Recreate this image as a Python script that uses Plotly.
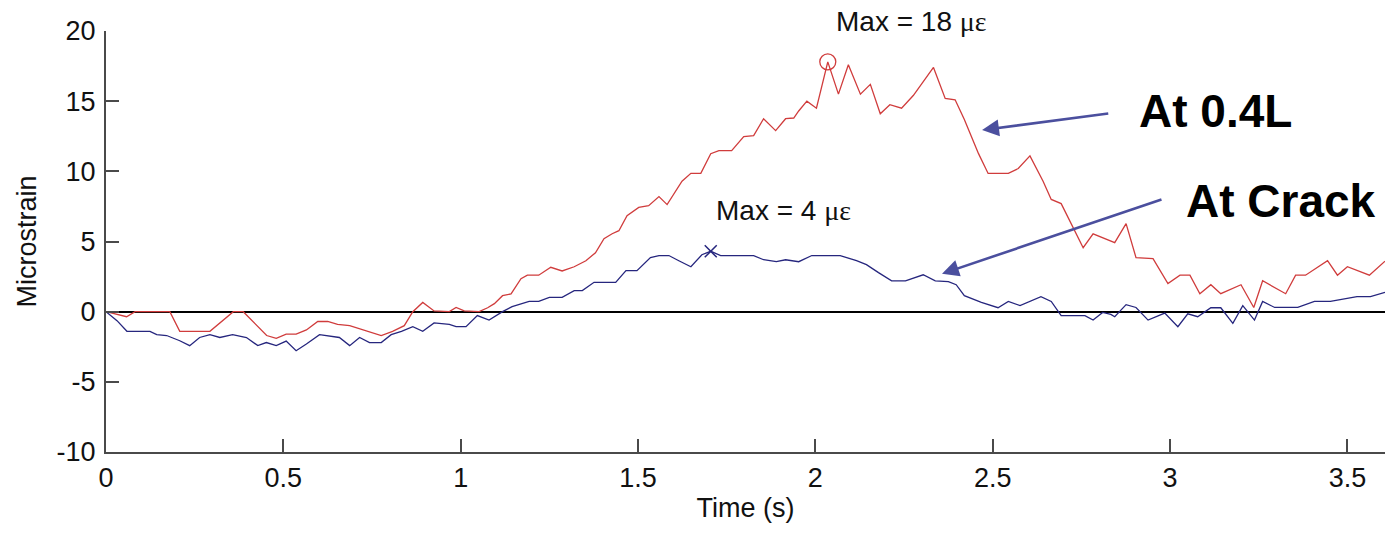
import plotly.graph_objects as go

# ---- data ----
red_t = [0.000, 0.058, 0.082, 0.180, 0.208, 0.293, 0.359, 0.387, 0.453, 0.480,
         0.508, 0.536, 0.565, 0.597, 0.625, 0.653, 0.687, 0.724, 0.743, 0.776,
         0.808, 0.841, 0.865, 0.893, 0.925, 0.968, 0.987, 1.010, 1.052, 1.076,
         1.095, 1.118, 1.142, 1.170, 1.188, 1.220, 1.254, 1.286, 1.320, 1.353,
         1.380, 1.404, 1.427, 1.446, 1.469, 1.502, 1.530, 1.559, 1.582, 1.624,
         1.649, 1.677, 1.705, 1.728, 1.764, 1.798, 1.826, 1.854, 1.888, 1.916,
         1.939, 1.953, 1.976, 2.003, 2.035, 2.065, 2.093, 2.127, 2.155, 2.183,
         2.210, 2.243, 2.276, 2.333, 2.366, 2.394, 2.420, 2.460, 2.487, 2.544,
         2.572, 2.605, 2.642, 2.665, 2.693, 2.732, 2.755, 2.783, 2.844, 2.876,
         2.904, 2.952, 2.994, 3.028, 3.056, 3.084, 3.115, 3.143, 3.200, 3.236,
         3.261, 3.326, 3.354, 3.382, 3.444, 3.472, 3.500, 3.562, 3.606]
red_v = [0.0, -0.36, 0.0, 0.0, -1.4, -1.4, 0.0, 0.0, -1.7, -1.9,
         -1.6, -1.6, -1.3, -0.7, -0.7, -0.9, -1.0, -1.3, -1.4, -1.7,
         -1.4, -1.0, 0.0, 0.66, 0.05, 0.0, 0.3, 0.05, 0.0, 0.28,
         0.57, 1.14, 1.27, 2.35, 2.6, 2.6, 3.16, 2.9, 3.2, 3.63,
         4.2, 5.2, 5.55, 5.77, 6.84, 7.43, 7.55, 8.2, 7.63, 9.3,
         9.86, 9.86, 11.26, 11.47, 11.47, 12.47, 12.54, 13.75, 12.9, 13.75,
         13.8, 14.3, 15.0, 14.5, 17.8, 15.5, 17.6, 15.5, 16.2, 14.1,
         14.75, 14.5, 15.4, 17.4, 15.2, 15.1, 13.7, 11.26, 9.85, 9.85,
         10.2, 11.1, 9.3, 8.0, 7.7, 5.77, 4.56, 5.55, 4.92, 6.27,
         3.85, 3.78, 2.0, 2.6, 2.6, 1.28, 1.92, 1.28, 1.92, 0.3,
         2.2, 1.28, 2.6, 2.6, 3.63, 2.6, 3.2, 2.6, 3.6]

blue_t = [0.000, 0.031, 0.059, 0.124, 0.143, 0.171, 0.208, 0.236, 0.264, 0.293,
          0.321, 0.357, 0.396, 0.428, 0.452, 0.480, 0.508, 0.536, 0.565, 0.602,
          0.658, 0.687, 0.715, 0.743, 0.776, 0.804, 0.833, 0.865, 0.893, 0.925,
          0.968, 0.987, 1.015, 1.047, 1.080, 1.118, 1.145, 1.193, 1.220, 1.250,
          1.286, 1.320, 1.343, 1.376, 1.437, 1.466, 1.497, 1.535, 1.559, 1.587,
          1.615, 1.649, 1.680, 1.705, 1.733, 1.826, 1.854, 1.890, 1.916, 1.953,
          1.990, 2.070, 2.116, 2.144, 2.178, 2.215, 2.254, 2.304, 2.338, 2.375,
          2.397, 2.420, 2.468, 2.515, 2.544, 2.577, 2.636, 2.665, 2.693, 2.760,
          2.783, 2.810, 2.833, 2.844, 2.876, 2.904, 2.938, 2.985, 3.022, 3.050,
          3.078, 3.115, 3.143, 3.177, 3.205, 3.238, 3.261, 3.295, 3.360, 3.407,
          3.452, 3.527, 3.565, 3.606]
blue_v = [0.0, -0.64, -1.4, -1.4, -1.64, -1.7, -2.07, -2.42, -1.84, -1.64,
          -1.84, -1.64, -1.84, -2.42, -2.2, -2.42, -2.1, -2.78, -2.3, -1.64,
          -1.84, -2.42, -1.84, -2.2, -2.2, -1.64, -1.4, -1.07, -1.4, -0.8,
          -0.9, -1.07, -1.07, -0.28, -0.6, 0.0, 0.36, 0.73, 0.73, 1.02,
          1.02, 1.5, 1.5, 2.09, 2.09, 2.92, 2.92, 3.85, 4.0, 4.0,
          3.63, 3.2, 4.06, 4.3, 4.0, 4.0, 3.7, 3.56, 3.7, 3.56,
          4.0, 4.0, 3.63, 3.35, 2.78, 2.2, 2.2, 2.63, 2.2, 2.14,
          1.92, 1.14, 0.66, 0.28, 0.73, 0.43, 1.07, 0.73, -0.28, -0.28,
          -0.6, -0.05, -0.2, -0.36, 0.5, 0.3, -0.6, -0.1, -1.07, -0.15,
          -0.36, 0.28, 0.28, -0.83, 0.43, -0.6, 0.73, 0.3, 0.3, 0.73,
          0.73, 1.07, 1.07, 1.38]

red_max = (2.035, 17.8)
blue_max = (1.705, 4.3)

x_ticks = [0, 0.5, 1, 1.5, 2, 2.5, 3, 3.5]
x_ticktext = ["0", "0.5", "1", "1.5", "2", "2.5", "3", "3.5"]
y_ticks = [-10, -5, 0, 5, 10, 15, 20]
y_ticktext = ["-10", "-5", "0", "5", "10", "15", "20"]

RED = "#d03c3c"
BLUE = "#26267e"
ARROW = "#4b4f9e"
AXC = "#4a4a4a"
FONT = "Liberation Sans, Arial, sans-serif"
GREEK = "<span style='font-family:Liberation Serif, Times New Roman, serif'>με</span>"

fig = go.Figure()
fig.add_trace(go.Scatter(x=red_t, y=red_v, mode="lines",
                         line=dict(color=RED, width=1.3), name="At 0.4L"))
fig.add_trace(go.Scatter(x=blue_t, y=blue_v, mode="lines",
                         line=dict(color=BLUE, width=1.3), name="At Crack"))
fig.add_trace(go.Scatter(x=[red_max[0]], y=[red_max[1]], mode="markers",
                         marker=dict(symbol="circle-open", size=16, color=RED,
                                     line=dict(color=RED, width=1.3)),
                         showlegend=False))
fig.add_trace(go.Scatter(x=[blue_max[0]], y=[blue_max[1]], mode="markers",
                         marker=dict(symbol="x-thin-open", size=12, color=BLUE,
                                     line=dict(color=BLUE, width=1.5)),
                         showlegend=False))

ann = [
    dict(x=2.27, y=1.022, yref="paper", yanchor="middle",
         text="Max = 18 " + GREEK, showarrow=False,
         font=dict(size=28, color="#111", family=FONT)),
    dict(x=1.909, y=7.2, text="Max = 4 " + GREEK, showarrow=False,
         font=dict(size=28, color="#111", family=FONT)),
    dict(x=3.127, y=14.3, text="<b>At 0.4L</b>", showarrow=False,
         font=dict(size=46, color="#000", family=FONT)),
    dict(x=3.313, y=7.9, text="<b>At Crack</b>", showarrow=False,
         font=dict(size=46, color="#000", family=FONT)),
    dict(x=2.47, y=12.94, ax=2.83, ay=14.14, axref="x", ayref="y",
         text="", showarrow=True, arrowhead=2, arrowsize=1.3,
         arrowwidth=2.6, arrowcolor=ARROW),
    dict(x=2.357, y=2.7, ax=2.98, ay=8.03, axref="x", ayref="y",
         text="", showarrow=True, arrowhead=2, arrowsize=1.3,
         arrowwidth=2.6, arrowcolor=ARROW),
]
for a in ann:
    a.setdefault("xref", "x")
    a.setdefault("yref", "y")
fig.update_layout(annotations=ann)

fig.update_layout(
    width=1385, height=533,
    margin=dict(l=106, r=0, t=31, b=81),
    paper_bgcolor="white", plot_bgcolor="white",
    showlegend=False,
    font=dict(family=FONT, size=27, color="#111"),
)
fig.update_xaxes(range=[0, 3.606], tickvals=x_ticks, ticktext=x_ticktext,
                 ticks="inside", ticklen=13, tickwidth=1.5, tickcolor=AXC,
                 showline=True, linecolor=AXC, linewidth=2,
                 showgrid=False, zeroline=False,
                 tickfont=dict(size=27, family=FONT, color="#111"),
                 ticklabelstandoff=1,
                 title=dict(text="Time (s)", font=dict(size=27, family=FONT, color="#111"),
                            standoff=6))
fig.update_yaxes(range=[-10, 20], tickvals=y_ticks, ticktext=y_ticktext,
                 ticks="inside", ticklen=13, tickwidth=1.5, tickcolor=AXC,
                 showline=True, linecolor=AXC, linewidth=2,
                 showgrid=False, zeroline=True, zerolinecolor="#000",
                 zerolinewidth=1.5,
                 tickfont=dict(size=27, family=FONT, color="#111"),
                 ticklabelstandoff=3,
                 title=dict(text="Microstrain", font=dict(size=27, family=FONT, color="#111"),
                            standoff=12))

fig.write_html("out.html")
